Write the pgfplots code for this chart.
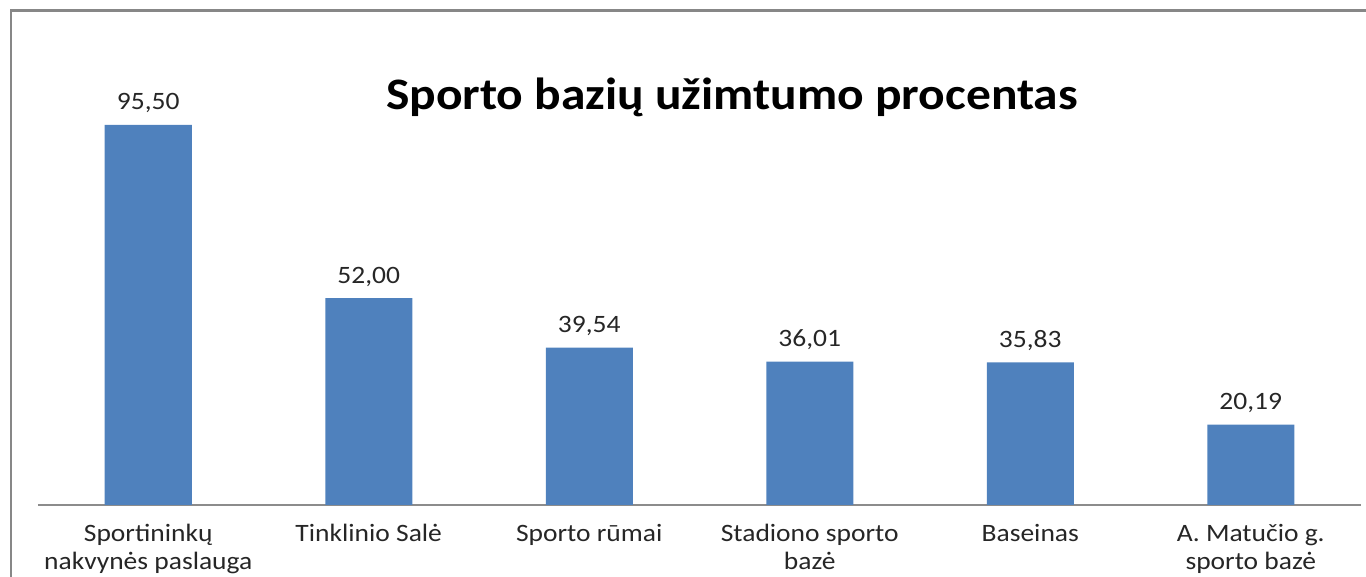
\documentclass[border=0pt]{standalone}
\usepackage{fontspec}
\setmainfont{Carlito}[FakeStretch=1.1]
\usepackage{pgfplots}
\usepackage{pgfplotstable}
\pgfplotsset{compat=1.18}
\definecolor{barblue}{HTML}{4F81BD}
\definecolor{framegray}{HTML}{878787}
\definecolor{axgray}{HTML}{8C8C8C}
\definecolor{txt}{HTML}{262626}
\pgfplotstableread{
x y lab
0 95.50 95,50
1 52.00 52,00
2 39.54 39,54
3 36.01 36,01
4 35.83 35,83
5 20.19 20,19
}\data
\begin{document}
\begin{tikzpicture}
\useasboundingbox (0,0) rectangle (683pt,288.5pt);
\begin{scope}
\clip (0,0) rectangle (683pt,288.5pt);
\draw[framegray, line width=1.4pt] (5.5pt,-10pt) -- (5.5pt,283.2pt) -- (700pt,283.2pt);
\end{scope}
\node[font=\fontsize{22.5}{26}\selectfont\bfseries, text=black] at (366pt,240pt) {Sporto bazių užimtumo procentas};
\begin{axis}[
  at={(19pt,36pt)}, anchor=south west,
  scale only axis, width=661.5pt, height=199pt,
  ymin=0, ymax=100, xmin=-0.5, xmax=5.5,
  hide y axis,
  axis x line*=bottom,
  x axis line style={axgray, line width=0.6pt, -},
  xtick=data,
  major tick length=0pt,
  xticklabels={{Sportininkų\\nakvynės paslauga},{Tinklinio Salė},{Sporto rūmai},{Stadiono sporto\\bazė},{Baseinas},{A. Matučio g.\\sporto bazė}},
  xticklabel style={font=\fontsize{12.5}{14}\selectfont, align=center, text=txt, anchor=north, yshift=-6pt},
  ybar, bar width=43.5pt,
  point meta=explicit symbolic,
  nodes near coords,
  nodes near coords style={font=\fontsize{12.5}{14}\selectfont, text=txt, anchor=base, inner sep=0pt, yshift=7.5pt},
  clip=false,
]
\addplot[fill=barblue, draw=none] table[x=x, y=y, meta=lab] {\data};
\end{axis}
\end{tikzpicture}
\end{document}
